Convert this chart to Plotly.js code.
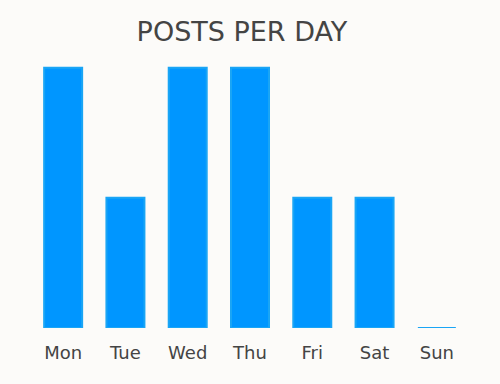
<!DOCTYPE html>
<html>
<head>
<meta charset="utf-8">
<script src="https://cdn.plot.ly/plotly-3.0.1.min.js"></script>
<style>html,body{margin:0;padding:0;background:#fcfbf9;}</style>
</head>
<body>
<div id="chart" style="width:500px;height:384px;"></div>
<script>
const days = ["Mon", "Tue", "Wed", "Thu", "Fri", "Sat", "Sun"];
const posts = [2, 1, 2, 2, 1, 1, 0];

Plotly.newPlot("chart", [{
  type: "bar",
  x: days,
  y: posts,
  marker: {color: "#0096ff", line: {color: "#1aa5f5", width: 2}},
  hoverinfo: "none"
}], {
  width: 500,
  height: 384,
  paper_bgcolor: "#fcfbf9",
  plot_bgcolor: "#fcfbf9",
  margin: {l: 32, r: 32, t: 54, b: 56},
  bargap: 0.39,
  font: {family: "DejaVu Sans, Verdana, sans-serif", color: "#444"},
  title: {text: "POSTS PER DAY", font: {size: 27, color: "#444"}, x: 0.484, xanchor: "center", y: 0.942, yanchor: "top"},
  xaxis: {showgrid: false, zeroline: false, showline: false, ticks: "", ticklabelstandoff: 12, tickfont: {size: 18, color: "#444"}},
  yaxis: {visible: false, range: [0, 2.105]},
  showlegend: false
}, {displayModeBar: false, staticPlot: true});
</script>
</body>
</html>
